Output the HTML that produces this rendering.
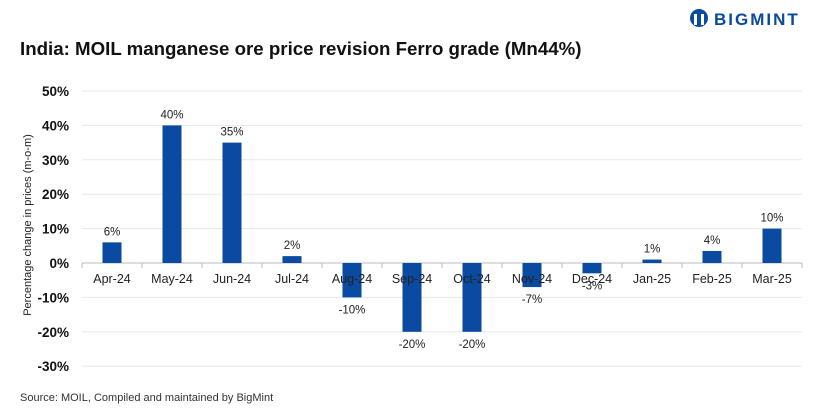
<!DOCTYPE html>
<html><head><meta charset="utf-8"><style>
body{margin:0;background:#fff;width:820px;height:410px;overflow:hidden;font-family:"Liberation Sans",sans-serif}
</style></head><body>
<svg width="820" height="410" xmlns="http://www.w3.org/2000/svg">
<text x="20" y="55" font-size="18.7" font-weight="bold" fill="#111">India: MOIL manganese ore price revision Ferro grade (Mn44%)</text>
<g>
<circle cx="699" cy="18" r="9" fill="#0a4aa0"/>
<rect x="694" y="14" width="3" height="11" fill="#fff"/><rect x="701" y="14" width="3" height="11" fill="#fff"/>
<text x="714" y="25" font-size="17" font-weight="bold" fill="#0a4aa0" letter-spacing="2">BIGMINT</text>
</g>
<g id="grid"></g><g id="bars"></g>
<text transform="translate(31,225) rotate(-90)" text-anchor="middle" font-size="11" fill="#222">Percentage change in prices (m-o-m)</text>
<text x="20" y="401" font-size="11" fill="#333">Source: MOIL, Compiled and maintained by BigMint</text>
</svg>
<script>
const categories=["Apr-24","May-24","Jun-24","Jul-24","Aug-24","Sep-24","Oct-24","Nov-24","Dec-24","Jan-25","Feb-25","Mar-25"];
const values=[6,40,35,2,-10,-20,-20,-7,-3,1,3.5,10];
const labels=["6%","40%","35%","2%","-10%","-20%","-20%","-7%","-3%","1%","4%","10%"];
const ticks=[50,40,30,20,10,0,-10,-20,-30];
const NS="http://www.w3.org/2000/svg";
const x0=82,x1=802,y=v=>263-v*3.44,step=(x1-x0)/categories.length,cx=i=>x0+step*(i+0.5);
function mk(t,a,p){const e=document.createElementNS(NS,t);for(const k in a)e.setAttribute(k,a[k]);p.appendChild(e);return e;}
const g=document.getElementById('grid'),b=document.getElementById('bars');
ticks.forEach(t=>{
 if(t!==0){const l=mk('line',{x1:x0,x2:x1,y1:y(t),y2:y(t),stroke:'#e8e8e8'},g);
 
 }
 const tx=mk('text',{x:69,y:y(t)+5,'text-anchor':'end','font-size':13.5,'font-weight':'bold',fill:'#111'},g);tx.textContent=t+'%';
 
 
});
const ax=mk('line',{x1:x0,x2:x1,y1:y(0),y2:y(0),stroke:'#bbb'},g);


for(let i=0;i<=categories.length;i++){mk('line',{x1:x0+step*i,x2:x0+step*i,y1:y(0),y2:y(0)+5,stroke:'#bbb'},g);}
categories.forEach((c,i)=>{
 const v=values[i],top=Math.min(y(v),y(0)),h=Math.abs(y(v)-y(0));
 const r=mk('rect',{x:cx(i)-9.5,y:top,width:19,height:h,fill:'#0a4aa0'},b);
 
 
 const lb=mk('text',{x:cx(i),y:v>=0?y(v)-7:y(v)+16,'text-anchor':'middle','font-size':11.5,fill:'#222'},b);lb.textContent=labels[i];
 
 
 const xl=mk('text',{x:cx(i),y:y(0)+20,'text-anchor':'middle','font-size':12.5,fill:'#222'},b);xl.textContent=c;
 
 
});
</script>
</body></html>
